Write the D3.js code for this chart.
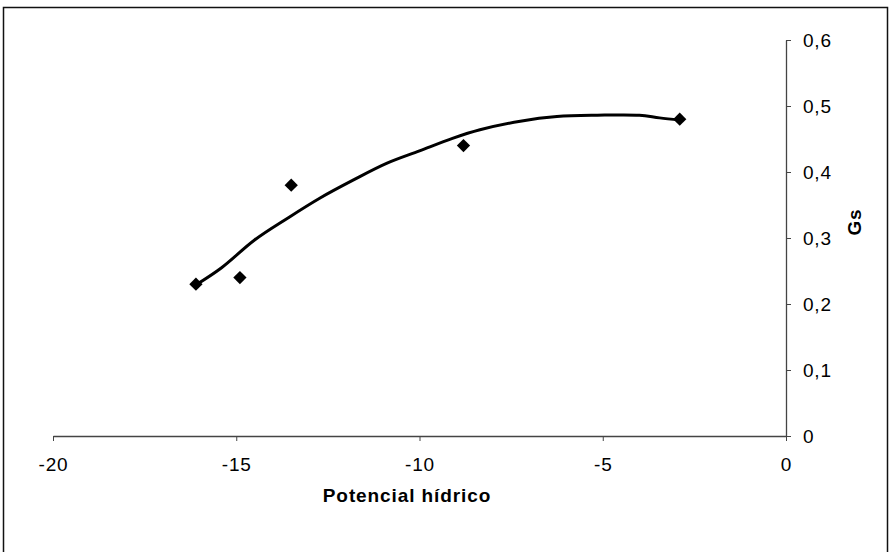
<!DOCTYPE html>
<html lang="es">
<head>
  <meta charset="utf-8">
  <title>Gs vs Potencial hídrico</title>
  <script src="https://cdnjs.cloudflare.com/ajax/libs/d3/7.8.5/d3.min.js"></script>
  <style>
    body { margin: 0; background: #fff; }
    svg text { font-family: "Liberation Sans", Arial, sans-serif; fill: #000; }
    .tick text { font-size: 19px; letter-spacing: 0.8px; }
    .axis-title { font-size: 19px; font-weight: bold; letter-spacing: 0.9px; }
  </style>
</head>
<body>
<script>
  // observed points
  var potencial = [-16.1, -14.9, -13.5, -8.8, -2.9];
  var gs = [0.23, 0.24, 0.38, 0.44, 0.48];

  // trend line
  var trendX = [-16.1, -15.4, -14.5, -13.6, -12.7, -11.8, -10.9, -10, -9.1, -8.35, -7.25, -6.25, -5.15, -4, -3.45, -2.9];
  var trendY = [0.229, 0.255, 0.297, 0.33, 0.361, 0.388, 0.413, 0.432, 0.451, 0.464, 0.477, 0.484, 0.486, 0.486, 0.482, 0.479];

  var xTicks = [-20, -15, -10, -5, 0];
  var yTicks = [0, 0.1, 0.2, 0.3, 0.4, 0.5, 0.6];

  var svg = d3.select("body").append("svg")
      .attr("width", 891)
      .attr("height", 552);

  // outer frame (bottom edge falls outside the picture)
  svg.append("rect")
      .attr("x", 3.5).attr("y", 7.5)
      .attr("width", 884).attr("height", 550)
      .attr("fill", "none")
      .attr("stroke", "#111")
      .attr("stroke-width", 1.5);

  var x = d3.scaleLinear().domain([-20, 0]).range([53, 786]);
  var y = d3.scaleLinear().domain([0, 0.6]).range([436, 40]);

  var fmt = function(d) { return String(d).replace(".", ","); };

  svg.append("g")
      .attr("transform", "translate(0," + y(0) + ")")
      .call(d3.axisBottom(x).tickValues(xTicks).tickSize(5).tickSizeOuter(0)
            .tickPadding(17).tickFormat(fmt));

  svg.append("g")
      .attr("transform", "translate(" + x(0) + ",0)")
      .call(d3.axisRight(y).tickValues(yTicks).tickSize(5).tickSizeOuter(0)
            .tickPadding(12).tickFormat(fmt));

  svg.selectAll(".domain").attr("stroke", "#444").attr("stroke-width", 1.3);
  svg.selectAll(".tick line").attr("stroke", "#444");
  svg.selectAll(".tick text").attr("fill", "#000");

  // trend line
  var line = d3.line()
      .x(function(d) { return x(d[0]); })
      .y(function(d) { return y(d[1]); })
      .curve(d3.curveCatmullRom.alpha(0.5));

  svg.append("path")
      .datum(d3.zip(trendX, trendY))
      .attr("d", line)
      .attr("fill", "none")
      .attr("stroke", "#000")
      .attr("stroke-width", 3)
      .attr("stroke-linejoin", "round");

  // diamond markers
  var diamond = d3.symbol().type(d3.symbolSquare).size(88);
  svg.selectAll(".pt")
      .data(d3.zip(potencial, gs))
      .enter().append("path")
      .attr("class", "pt")
      .attr("d", diamond)
      .attr("transform", function(d) {
        return "translate(" + x(d[0]) + "," + y(d[1]) + ") rotate(45)";
      })
      .attr("fill", "#000");

  // axis titles
  svg.append("text")
      .attr("class", "axis-title")
      .attr("x", 407)
      .attr("y", 502)
      .attr("text-anchor", "middle")
      .text("Potencial hídrico");

  svg.append("text")
      .attr("class", "axis-title")
      .attr("transform", "translate(861,222) rotate(-90)")
      .attr("text-anchor", "middle")
      .text("Gs");
</script>
</body>
</html>
